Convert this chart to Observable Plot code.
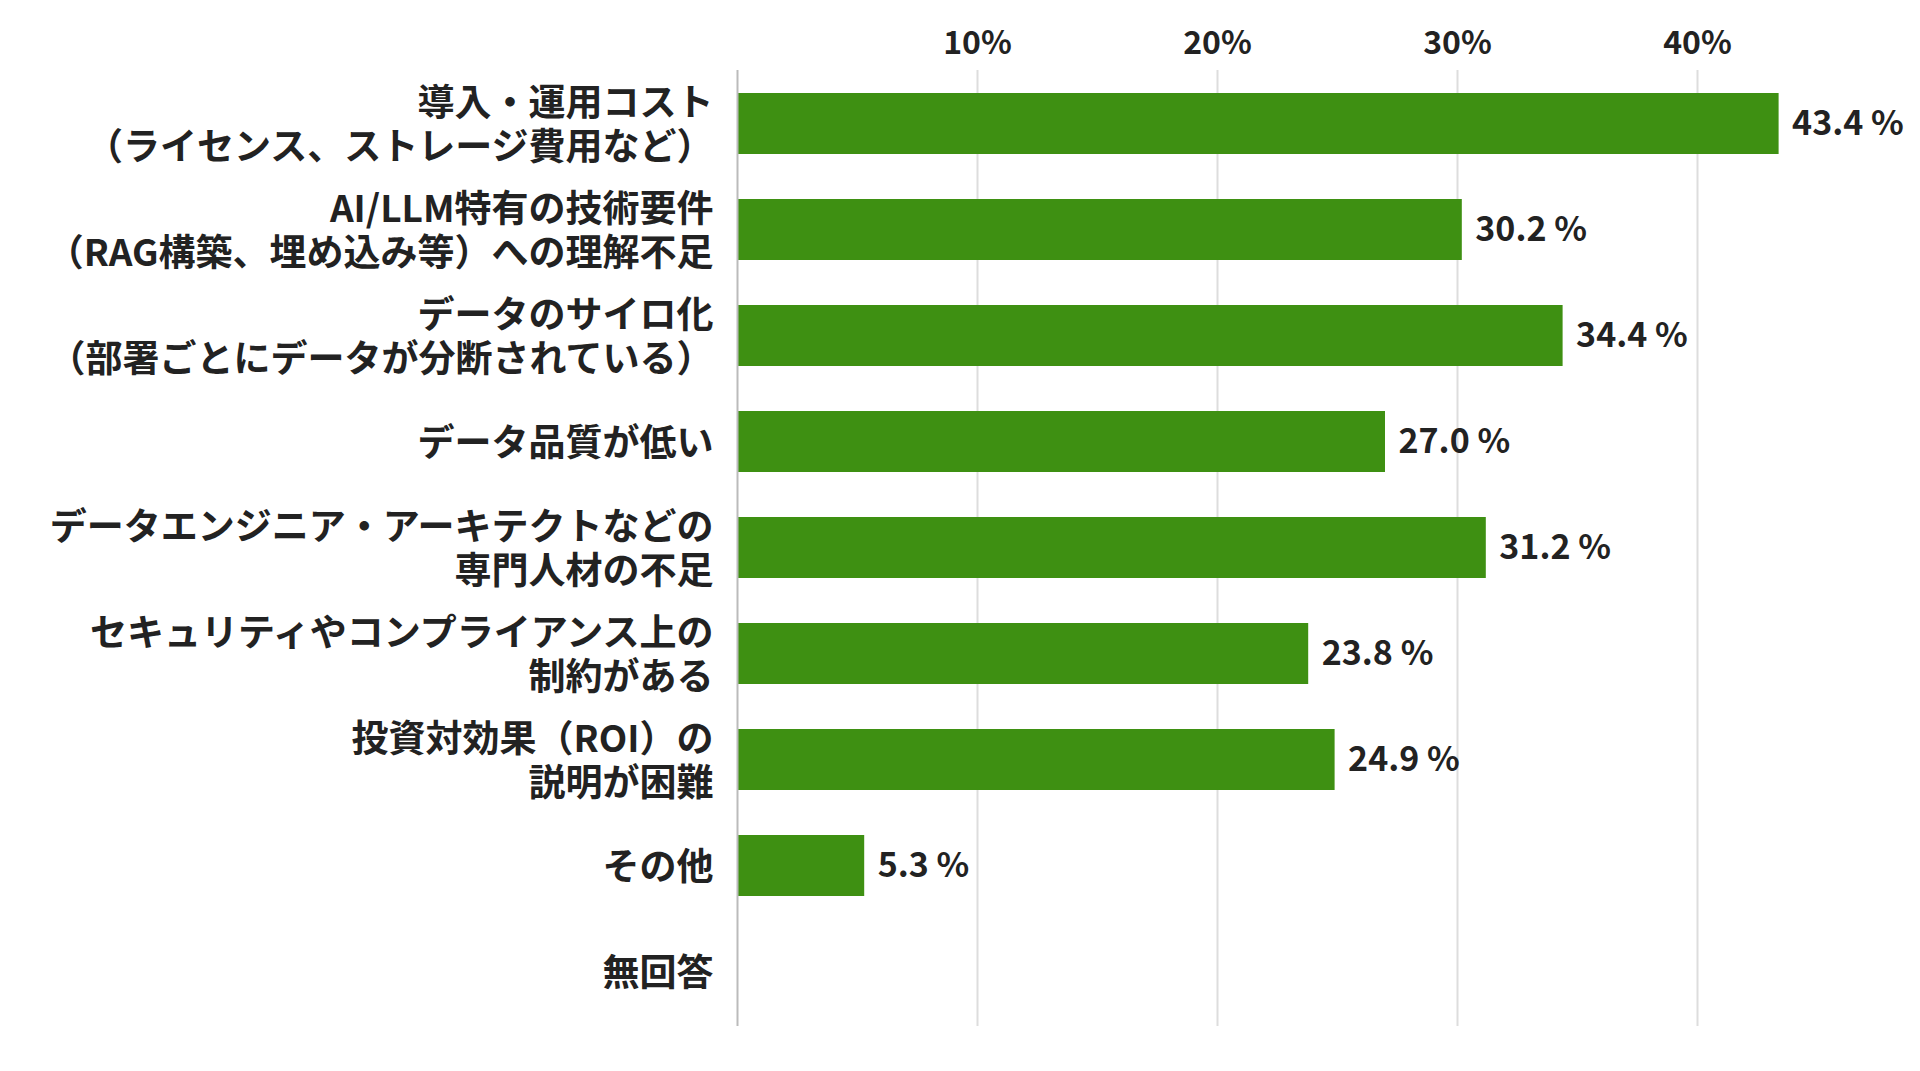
<!DOCTYPE html>
<html><head><meta charset="utf-8">
<script src="https://cdn.jsdelivr.net/npm/d3@7"></script>
<script src="https://cdn.jsdelivr.net/npm/@observablehq/plot@0.6"></script>
<style>body{margin:0;background:#fff;font-family:"Noto Sans CJK JP","Noto Sans",sans-serif;}</style>
</head><body><div id="c"></div>
<script>
const categories = [
  "導入・運用コスト\n（ライセンス、ストレージ費用など）",
  "AI/LLM特有の技術要件\n（RAG構築、埋め込み等）への理解不足",
  "データのサイロ化\n（部署ごとにデータが分断されている）",
  "データ品質が低い",
  "データエンジニア・アーキテクトなどの\n専門人材の不足",
  "セキュリティやコンプライアンス上の\n制約がある",
  "投資対効果（ROI）の\n説明が困難",
  "その他",
  "無回答"
];
const values = [43.4, 30.2, 34.4, 27.0, 31.2, 23.8, 24.9, 5.3, null];
const xTicks = [10, 20, 30, 40];
const data = categories.map((c, i) => ({c, v: values[i]}));
const chart = Plot.plot({
  width: 1920, height: 1071,
  marginLeft: 737, marginRight: 31, marginTop: 70, marginBottom: 45,
  style: {fontFamily: '"Noto Sans CJK JP", sans-serif', color: "#222"},
  x: {domain: [0, 48], axis: null},
  y: {domain: categories, axis: null, paddingInner: 0.42, paddingOuter: 0.21},
  marks: [
    Plot.ruleX(xTicks, {stroke: "#ddd", strokeWidth: 2}),
    Plot.axisX(xTicks, {anchor: "top", tickSize: 0, tickFormat: d => d + "%", fontSize: 32, fontWeight: "bold", fill: "#222", label: null, dy: -8}),
    Plot.barX(data.filter(d => d.v != null), {x: "v", y: "c", fill: "#3e9012"}),
    Plot.ruleX([0], {stroke: "#bbb", strokeWidth: 2}),
    Plot.text(data.filter(d => d.v != null), {x: "v", y: "c", text: d => d.v.toFixed(1) + " %", textAnchor: "start", dx: 13, fontSize: 34, fontWeight: "bold", fill: "#222"}),
    Plot.axisY({tickSize: 0, tickPadding: 24, fontSize: 37, fontWeight: "bold", fill: "#222", lineHeight: 1.2, label: null})
  ]
});
document.getElementById("c").appendChild(chart);
</script></body></html>
